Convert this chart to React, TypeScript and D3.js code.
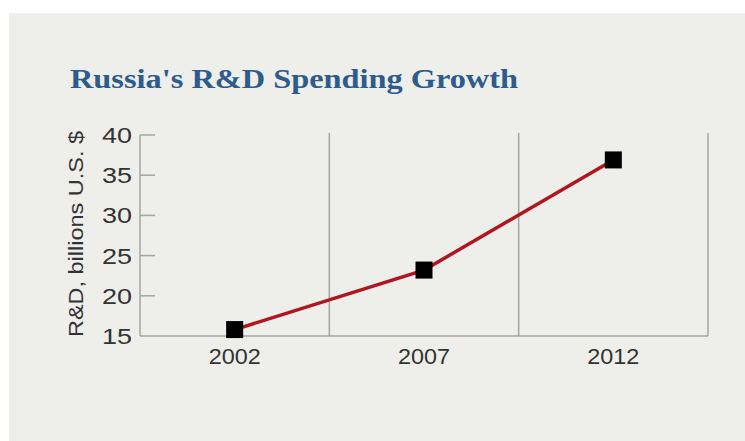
import React from "react";
import * as d3 from "d3";

const years = ["2002", "2007", "2012"];
const spending = [15.8, 23.2, 36.9];
const yTicks = [15, 20, 25, 30, 35, 40];
const title = "Russia's R&D Spending Growth";
const yLabel = "R&D, billions U.S. $";

export default function App() {
  const W = 745, H = 441;
  const left = 140, right = 708, top = 135, bottom = 336;
  const x = d3.scaleBand<string>().domain(years).range([left, right]).padding(0);
  const y = d3.scaleLinear().domain([15, 40]).range([bottom, top]);
  const line = d3.line<number>()
    .x((_, i) => (x(years[i]) as number) + x.bandwidth() / 2)
    .y((d) => y(d));
  const sans = "'Liberation Sans', Arial, sans-serif";
  return (
    <svg width={W} height={H} style={{ position: "absolute", left: 0, top: 0 }}>
      <rect x={0} y={0} width={W} height={H} fill="#ffffff" />
      <rect x={9} y={13} width={W - 9} height={H - 13} fill="#eeeeea" />
      <text x={70} y={88} fontFamily="'Liberation Serif', 'DejaVu Serif', serif" fontWeight="bold"
        fontSize={27} fill="#2d5c8c" textLength={448} lengthAdjust="spacingAndGlyphs">{title}</text>
      {/* gridlines at band edges */}
      {years.map((yr) => (
        <line key={yr} x1={(x(yr) as number) + x.bandwidth()} x2={(x(yr) as number) + x.bandwidth()}
          y1={133} y2={bottom} stroke="#a4a4a2" strokeWidth={1.5} />
      ))}
      {/* y axis */}
      <line x1={left} x2={left} y1={top} y2={bottom} stroke="#a4a4a2" strokeWidth={1.5} />
      <line x1={left} x2={right} y1={bottom} y2={bottom} stroke="#a4a4a2" strokeWidth={1.5} />
      {yTicks.map((t) => (
        <g key={t}>
          {t !== 15 && <line x1={left} x2={left + 15} y1={y(t)} y2={y(t)} stroke="#a4a4a2" strokeWidth={1.5} />}
          <text x={132} y={y(t)} dy="0.36em" textAnchor="end" fontFamily={sans} fontSize={22}
            fill="#333333" textLength={30} lengthAdjust="spacingAndGlyphs">{t}</text>
        </g>
      ))}
      {years.map((yr) => (
        <text key={yr} x={(x(yr) as number) + x.bandwidth() / 2} y={364} textAnchor="middle"
          fontFamily={sans} fontSize={22} fill="#333333" textLength={52} lengthAdjust="spacingAndGlyphs">{yr}</text>
      ))}
      <text transform={`translate(83, 234) rotate(-90)`} textAnchor="middle"
        fontFamily={sans} fontSize={20} fill="#333333" textLength={206} lengthAdjust="spacingAndGlyphs">{yLabel}</text>
      <path d={line(spending) as string} fill="none" stroke="#b0161f" strokeWidth={3.5} />
      {spending.map((v, i) => (
        <rect key={i} x={(x(years[i]) as number) + x.bandwidth() / 2 - 8.5} y={y(v) - 8.5}
          width={17} height={17} fill="#000" />
      ))}
    </svg>
  );
}
